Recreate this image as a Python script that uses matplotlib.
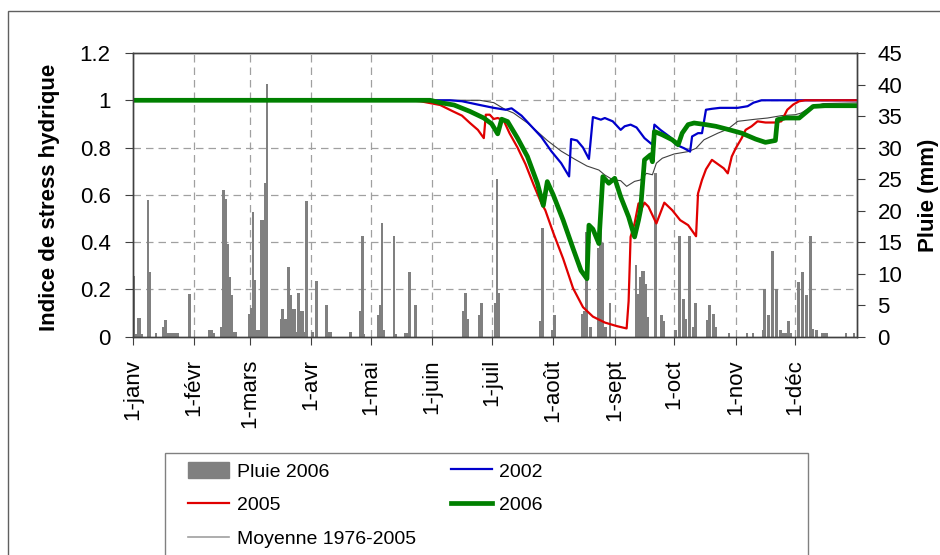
import matplotlib
matplotlib.use("Agg")
import matplotlib.pyplot as plt
from matplotlib.patches import Rectangle, Patch
from matplotlib.lines import Line2D

plt.rcParams['font.family'] = ['Liberation Sans', 'DejaVu Sans']

# x axis : day of year (0 = 1 janvier)
month_days = [0, 31, 59, 90, 120, 151, 181, 212, 243, 273, 304, 334]
month_labels = ['1-janv', '1-févr', '1-mars', '1-avr', '1-mai', '1-juin',
                '1-juil', '1-août', '1-sept', '1-oct', '1-nov', '1-déc']

# daily rain 2006 (mm)
rain_days = [0, 1, 2, 3, 4, 7, 8, 11, 15, 16, 17, 18, 19, 20, 21, 22, 28,
             38, 39, 40, 44, 45, 46, 47, 48, 49, 50, 51,
             58, 59, 60, 61, 62, 63, 64, 65, 66, 67,
             74, 75, 76, 77, 78, 79, 80, 81, 82, 83, 84, 85, 86, 87, 90, 92,
             97, 98, 99, 109, 114, 115, 116,
             123, 124, 125, 126, 131, 132, 137, 138, 139, 142,
             166, 167, 168, 174, 175, 182, 183, 184,
             205, 206, 211, 212, 226, 227, 228, 230,
             234, 235, 236, 237, 238, 240,
             253, 254, 255, 256, 257, 258, 259, 263, 266, 267,
             273, 275, 277, 278, 280, 282, 283, 289, 290, 292, 293, 300,
             309, 312, 317, 318, 320, 322, 324, 326, 327, 328, 329, 330, 331,
             335, 337, 339, 341, 342, 344, 347, 348, 349, 359, 363]
rain_mm = [9.6, 0.5, 3.0, 3.0, 0.5, 21.7, 10.3, 0.6, 1.5, 2.6, 0.6, 0.6, 0.6, 0.6, 0.6, 0.6, 6.7,
           1.0, 1.0, 0.6, 1.6, 23.2, 21.8, 14.7, 9.5, 6.6, 0.7, 0.7,
           3.6, 4.5, 19.8, 9.0, 1.0, 1.0, 18.5, 18.5, 24.4, 40.1,
           2.8, 4.4, 2.8, 2.8, 11.1, 6.6, 4.4, 4.4, 0.7, 7.0, 4.1, 4.1, 0.7, 21.6, 0.7, 8.9,
           5.1, 0.7, 0.7, 0.7, 4.1, 15.9, 0.5,
           3.4, 5.0, 18.0, 1.0, 15.9, 0.5, 0.6, 0.6, 10.2, 5.1,
           4.1, 7.0, 2.8, 3.4, 5.4, 5.4, 25.0, 7.0,
           2.5, 17.2, 1.1, 3.4, 3.6, 4.1, 16.6, 1.5,
           14.0, 19.6, 14.8, 1.5, 1.5, 5.4,
           11.4, 6.8, 9.4, 10.4, 10.4, 8.4, 3.1, 26.0, 3.4, 2.5,
           1.0, 15.9, 6.0, 2.8, 15.9, 1.5, 5.3, 2.6, 5.1, 3.6, 1.6, 0.6,
           0.6, 0.6, 1.0, 7.6, 3.4, 13.6, 7.6, 1.0, 0.6, 0.6, 0.6, 2.5, 0.6,
           8.6, 10.2, 6.6, 15.9, 1.2, 1.0, 0.6, 0.6, 0.6, 0.6, 0.6]

# water stress index (day, value)
d2002 = [0, 160, 166, 175, 182, 188, 191, 196, 201, 206, 211, 216, 220, 221, 224, 227, 230,
         232, 236, 238, 242, 246, 248, 251, 254, 258, 262, 263, 266, 271, 274, 278, 281,
         282, 285, 287, 289, 292, 296, 305, 310, 313, 317, 365]
v2002 = [1.0, 1.0, 0.996, 0.98, 0.968, 0.96, 0.966, 0.935, 0.89, 0.845, 0.785, 0.734, 0.678,
         0.836, 0.83, 0.80, 0.752, 0.929, 0.918, 0.925, 0.911, 0.875, 0.89, 0.897, 0.885,
         0.84, 0.812, 0.897, 0.875, 0.844, 0.812, 0.797, 0.783, 0.847, 0.861, 0.861, 0.96,
         0.964, 0.968, 0.968, 0.975, 0.99, 1.0, 1.0]

d2005 = [0, 139, 145, 155, 161, 166, 170, 174, 177, 178, 180, 182, 184, 187, 190, 194, 198,
         202, 206, 208, 212, 217, 222, 227, 232, 238, 244, 249, 250, 251, 253, 255, 256,
         258, 260, 264, 268, 272, 276, 280, 284, 285, 287, 289, 292, 295, 298, 300, 302,
         304, 307, 309, 312, 315, 319, 324, 327, 330, 333, 336, 339, 365]
v2005 = [1.0, 1.0, 0.996, 0.98, 0.955, 0.935, 0.904, 0.875, 0.84, 0.939, 0.939, 0.921, 0.925,
         0.915, 0.86, 0.80, 0.73, 0.645, 0.565, 0.535, 0.44, 0.33, 0.205, 0.125, 0.085, 0.06,
         0.045, 0.035, 0.15, 0.422, 0.479, 0.564, 0.53, 0.567, 0.55, 0.479, 0.567, 0.535,
         0.493, 0.472, 0.425, 0.606, 0.663, 0.708, 0.748, 0.73, 0.712, 0.691, 0.762, 0.797,
         0.84, 0.875, 0.89, 0.911, 0.906, 0.906, 0.911, 0.96, 0.982, 0.996, 1.0, 1.0]

d2006 = [0, 150, 155, 162, 170, 177, 181, 184, 186, 189, 194, 199, 204, 207, 209, 212, 217,
         222, 226, 229, 230, 232, 235, 237, 240, 243, 246, 250, 253, 255, 256, 258, 261,
         262, 263, 267, 272, 275, 277, 280, 283, 289, 294, 300, 307, 314, 319, 324, 325,
         329, 336, 339, 343, 349, 365]
v2006 = [1.0, 1.0, 0.99, 0.98, 0.953, 0.925, 0.9, 0.858, 0.92, 0.91, 0.84, 0.762, 0.649,
         0.555, 0.656, 0.6, 0.493, 0.373, 0.28, 0.245, 0.472, 0.455, 0.394, 0.677, 0.649,
         0.67, 0.592, 0.507, 0.422, 0.493, 0.535, 0.748, 0.769, 0.74, 0.868, 0.854, 0.833,
         0.812, 0.861, 0.897, 0.904, 0.897, 0.89, 0.877, 0.861, 0.836, 0.822, 0.83, 0.918,
         0.925, 0.925, 0.946, 0.974, 0.977, 0.977]

dmoy = [0, 175, 182, 188, 192, 199, 203, 209, 216, 223, 229, 235, 238, 242, 246, 249, 253,
        256, 259, 262, 264, 267, 273, 280, 284, 288, 295, 300, 305, 314, 320, 327, 334,
        337, 341, 348, 365]
vmoy = [1.0, 1.0, 0.99, 0.96, 0.946, 0.904, 0.875, 0.83, 0.785, 0.75, 0.722, 0.705, 0.684,
        0.664, 0.66, 0.636, 0.657, 0.663, 0.691, 0.685, 0.734, 0.755, 0.773, 0.783, 0.797,
        0.833, 0.861, 0.878, 0.911, 0.92, 0.925, 0.935, 0.939, 0.946, 0.967, 0.986, 0.989]

left_ticks = [0, 0.2, 0.4, 0.6, 0.8, 1.0, 1.2]
left_labels = ['0', '0.2', '0.4', '0.6', '0.8', '1', '1.2']
right_ticks = [0, 5, 10, 15, 20, 25, 30, 35, 40, 45]

fig = plt.figure(figsize=(9.4, 5.55), dpi=100)
ax = fig.add_axes([0.1412, 0.3933, 0.7702, 0.5112])
ax2 = ax.twinx()
ax.set_zorder(ax2.get_zorder() + 1)
ax.patch.set_visible(False)

# grid drawn on the rain axes so the bars cover it
grid_kw = dict(color='#a0a0a0', lw=0.9, dashes=(6, 4), zorder=0)
for d in month_days[1:]:
    ax2.axvline(d, **grid_kw)
for t in left_ticks[1:-1]:
    ax2.axhline(t * 45 / 1.2, **grid_kw)

ax2.bar(rain_days, rain_mm, width=1.35, align='edge', color='#808080', zorder=2)

ax.plot(dmoy, vmoy, color='#404040', lw=0.8)
ax.plot(d2002, v2002, color='#0000cc', lw=1.6)
ax.plot(d2005, v2005, color='#e00000', lw=1.6)
ax.plot(d2006, v2006, color='#008000', lw=3.4)

ax.set_xlim(0, 365)
ax.set_ylim(0, 1.2)
ax2.set_ylim(0, 45)
ax.set_xticks(month_days)
ax.set_xticklabels(month_labels, rotation=90, va='top', ha='center')
ax.set_yticks(left_ticks)
ax.set_yticklabels(left_labels)
ax2.set_yticks(right_ticks)

ax.tick_params(axis='x', direction='out', length=6, pad=10, labelsize=16, color='#404040')
ax.tick_params(axis='y', direction='out', length=6, pad=10, labelsize=16, color='#404040')
ax2.tick_params(axis='y', direction='out', length=6, pad=9, labelsize=16, color='#404040')
for a in (ax, ax2):
    for s in a.spines.values():
        s.set_color('#404040')
        s.set_linewidth(1.0)

ax.set_ylabel('Indice de stress hydrique', fontsize=16, fontweight='bold')
ax.yaxis.set_label_coords(-0.100, 0.49)
ax2.set_ylabel('Pluie (mm)', fontsize=16, fontweight='bold')
ax2.yaxis.set_label_coords(1.084, 0.5)

# legend
handles = [Patch(color='#808080'),
           Line2D([], [], color='#e00000', lw=1.6),
           Line2D([], [], color='#a0a0a0', lw=1.2),
           Line2D([], [], color='#0000cc', lw=1.6),
           Line2D([], [], color='#008000', lw=3.4)]
labels = ['Pluie 2006', '2005', 'Moyenne 1976-2005', '2002', '2006']
fig.legend(handles, labels, ncol=2, loc='upper left', bbox_to_anchor=(0.2, 0.168),
           frameon=False, fontsize=14, handlelength=2.1, handleheight=0.9,
           handletextpad=0.4, columnspacing=1.8, labelspacing=0.78, borderpad=0,
           borderaxespad=0)

fig.add_artist(Rectangle((165 / 940, -0.02), (808 - 165) / 940, 0.2043,
                         transform=fig.transFigure, fill=False, ec='#808080', lw=1.0))
fig.add_artist(Rectangle((8 / 940, -0.02), 1.1, 1.0007,
                         transform=fig.transFigure, fill=False, ec='#606060', lw=1.0))

fig.savefig('out.png', dpi=100)
